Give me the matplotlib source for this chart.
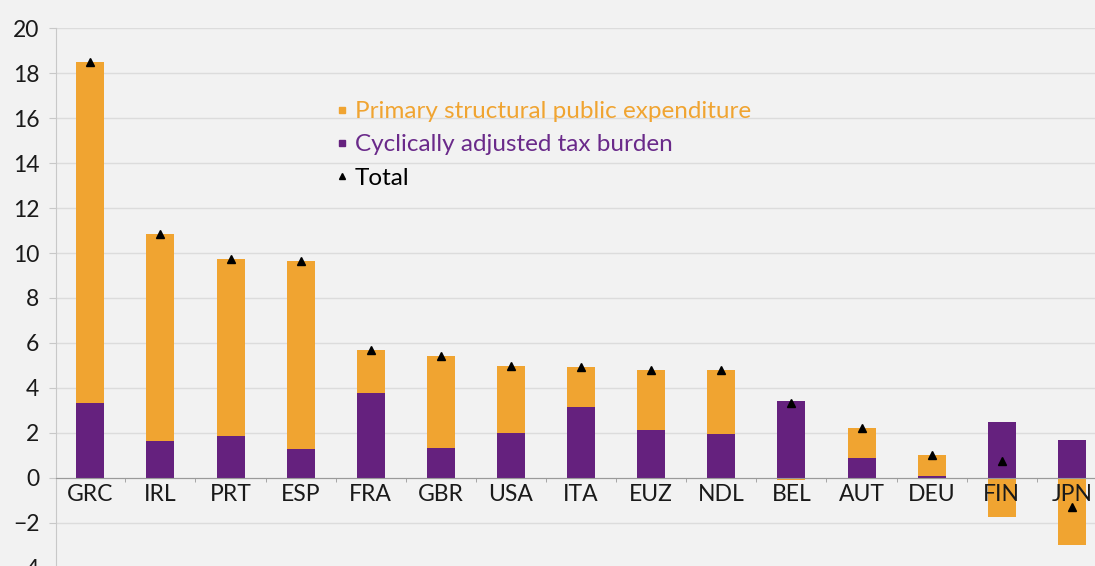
import numpy as np
import matplotlib.pyplot as plt
from matplotlib.lines import Line2D

plt.rcParams['font.family'] = ['Lato', 'DejaVu Sans']

countries = ['GRC', 'IRL', 'PRT', 'ESP', 'FRA', 'GBR', 'USA', 'ITA',
             'EUZ', 'NDL', 'BEL', 'AUT', 'DEU', 'FIN', 'JPN']
tax_burden = [3.33, 1.64, 1.87, 1.29, 3.78, 1.33, 2.00, 3.16,
              2.13, 1.96, 3.42, 0.89, 0.09, 2.49, 1.69]
expenditure = [15.14, 9.20, 7.86, 8.35, 1.91, 4.09, 2.98, 1.77,
               2.67, 2.84, -0.07, 1.33, 0.93, -1.73, -2.98]

ORANGE = '#f0a431'
PURPLE = '#65217e'
BG = '#f2f2f2'

tax = np.array(tax_burden)
exp_ = np.array(expenditure)
total = tax + exp_
x = np.arange(len(countries))

fig = plt.figure(figsize=(10.95, 5.66), dpi=100, facecolor=BG)
ax = fig.add_axes([0.0511, -0.0035, 0.9489, 0.954], facecolor=BG)

ax.bar(x, tax, width=0.4, color=PURPLE, zorder=2)
# negative expenditure hangs below zero, positive stacks on the tax burden
ax.bar(x, exp_, width=0.4, bottom=np.where(exp_ >= 0, tax, 0), color=ORANGE, zorder=2)
ax.plot(x, total, linestyle='none', marker='^', color='black', markersize=5.5, zorder=3)

ax.set_xlim(-0.49, 14.33)
ax.set_ylim(-4, 20)
ax.set_yticks(np.arange(-4, 21, 2))
ax.grid(axis='y', color='#dcdcdc', linewidth=1, zorder=0)

ax.spines['bottom'].set_position(('data', 0))
ax.spines['bottom'].set_color('#9a9a9a')
ax.spines['left'].set_color('#c8c8c8')
ax.spines['top'].set_visible(False)
ax.spines['right'].set_visible(False)
# country codes sit on top of the bars that go negative
ax.xaxis.set_zorder(3)

ax.set_xticks(x)
ax.set_xticklabels(countries)
ax.set_xticks(np.arange(0.5, len(countries) - 1, 1), minor=True)
ax.tick_params(axis='x', which='major', length=0, pad=4, labelsize=16.5, labelcolor='#1a1a1a')
ax.tick_params(axis='x', which='minor', length=3, color='#9a9a9a')
ax.tick_params(axis='y', length=5, color='#c8c8c8', pad=7, labelsize=16.5, labelcolor='#1a1a1a')

handles = [
    Line2D([], [], linestyle='none', marker='s', markersize=4, color=ORANGE),
    Line2D([], [], linestyle='none', marker='s', markersize=4, color=PURPLE),
    Line2D([], [], linestyle='none', marker='^', markersize=4, color='black'),
]
labels = ['Primary structural public expenditure', 'Cyclically adjusted tax burden', 'Total']
ax.legend(handles, labels, loc='upper left', bbox_to_anchor=(0.248, 0.905), frameon=False,
          fontsize=17.5, handlelength=0.5, handletextpad=0.3, labelspacing=0.5,
          labelcolor=[ORANGE, '#6a2a8a', 'black'])

fig.savefig('out.png', dpi=100, facecolor=BG)
